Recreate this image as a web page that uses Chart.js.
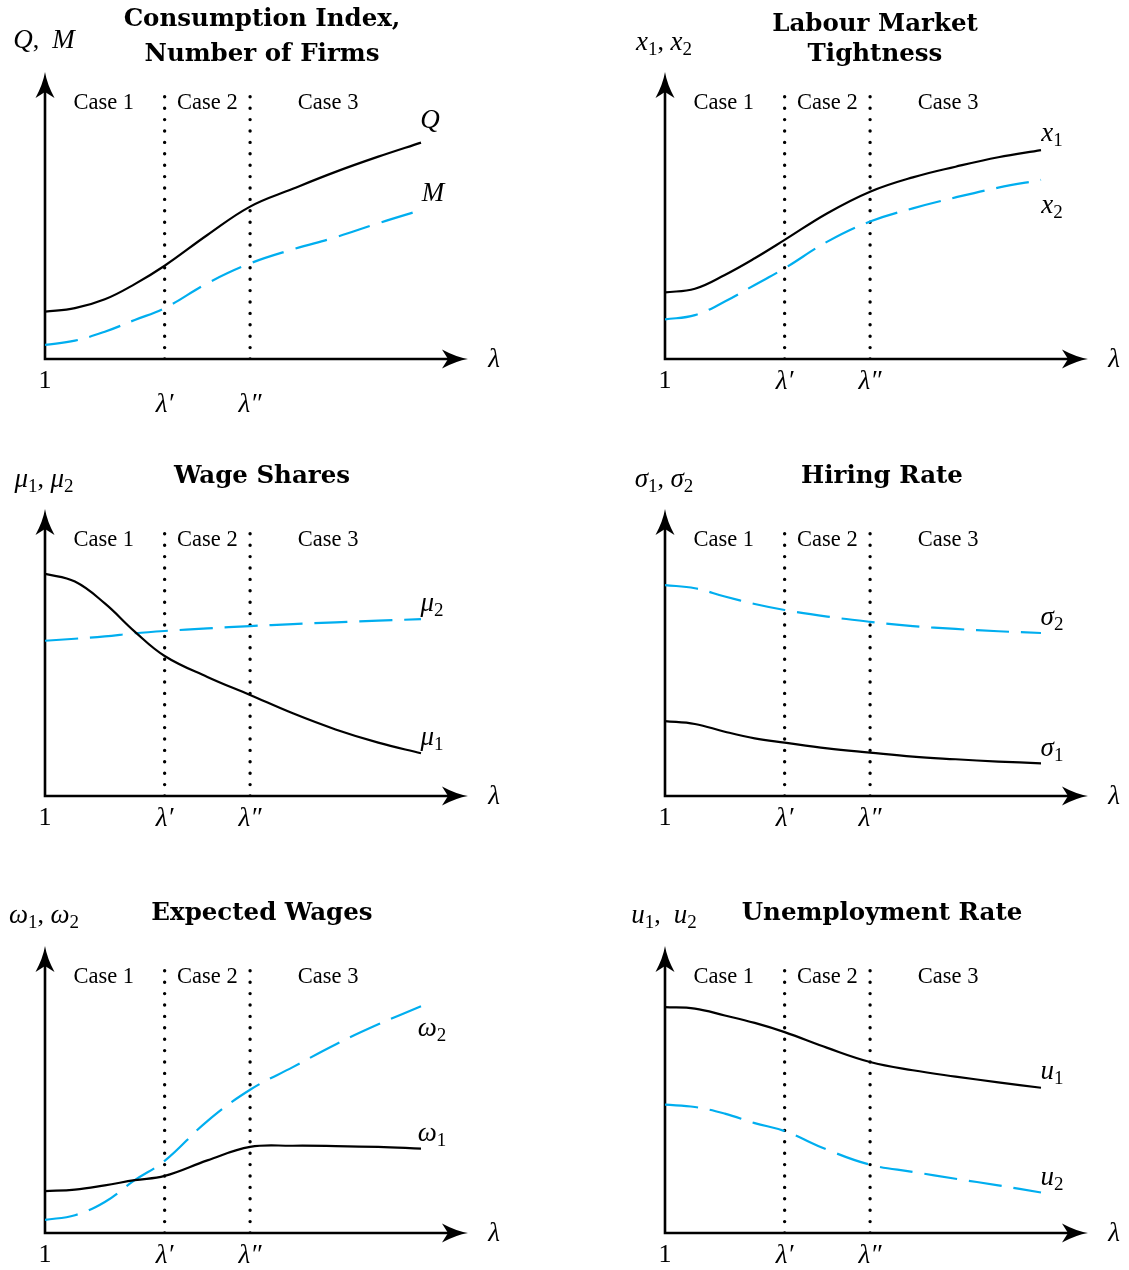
<!DOCTYPE html>
<html>
<head>
<meta charset="utf-8">
<script src="https://cdn.jsdelivr.net/npm/chart.js@4.4.1/dist/chart.umd.min.js"></script>
<style>
  body { margin: 0; background: #fff; }
  #wrap { position: relative; width: 1129px; height: 1270px; }
  canvas { position: absolute; }
</style>
</head>
<body>
<div id="wrap"></div>
<script>
// lambda sample points shared by every panel
const lambdaX = [1, 1.35, 1.7, 2.05, 2.4, 2.9, 3.4, 3.9, 4.4, 4.9, 5.4];
const LAMBDA_P = 2.4;   // lambda'
const LAMBDA_PP = 3.4;  // lambda''
const X_MAX = 5.95;

const caseLabels = ['Case 1', 'Case 2', 'Case 3'];
const tickLabels = ['1', 'λ′', 'λ″'];

// values (arbitrary units, 0 = horizontal axis)
const qValues      = [16.5, 17.7, 20.8, 26.1, 32.5, 43.2, 53.1, 59.3, 65.2, 70.5, 75.4];
const mValues      = [4.9, 6.4, 9.5, 13.6, 17.7, 26.4, 33.3, 38.2, 42.4, 47.3, 51.9];
const x1Values     = [23.2, 24.5, 29.3, 35.1, 41.5, 50.8, 58.3, 63.3, 67.0, 70.3, 72.8];
const x2Values     = [13.8, 15.3, 20.0, 25.8, 31.6, 40.9, 47.9, 52.5, 56.3, 59.7, 62.4];
const mu1Values    = [77.4, 74.7, 67.1, 57.3, 48.8, 41.5, 35.2, 28.8, 23.2, 18.6, 14.9];
const mu2Values    = [54.1, 54.8, 55.6, 56.7, 57.5, 58.4, 59.2, 59.9, 60.5, 61.1, 61.6];
const sigma1Values = [26.1, 25.1, 22.4, 20.1, 18.6, 16.6, 15.1, 13.7, 12.8, 12.0, 11.4];
const sigma2Values = [73.5, 72.4, 69.5, 66.9, 64.8, 62.5, 60.7, 59.2, 58.2, 57.4, 56.8];
const omega1Values = [14.6, 15.1, 16.6, 18.4, 19.9, 25.3, 30.0, 30.4, 30.3, 30.0, 29.4];
const omega2Values = [4.6, 6.2, 10.8, 18.4, 25.1, 39.0, 49.9, 57.8, 65.7, 72.7, 79.0];
const u1Values     = [78.7, 78.2, 75.8, 73.2, 70.0, 64.5, 59.6, 56.7, 54.5, 52.5, 50.6];
const u2Values     = [44.7, 43.9, 41.6, 38.3, 35.5, 29.0, 23.8, 21.3, 18.9, 16.6, 14.1];

const BLUE = '#00aeef';
const SERIF = '"Liberation Serif", "DejaVu Serif", serif';
const W = 509, H = 437;
const AREA = { left: 45, top: 72, right: 468, bottom: 359 };

const panels = [
  { left: 0, top: 0, title: ['Consumption Index,', 'Number of Firms'], titleY: [20, 55], titleX: 262,
    yLabel: [['Q', 'i'], [',  ', 'r'], ['M', 'i']], yLabelY: 40,
    solid: qValues, dashed: mValues, tickY: 405,
    solidLabel: [['Q', 'i']], solidPos: [430, 120],
    dashedLabel: [['M', 'i']], dashedPos: [433, 193] },
  { left: 620, top: 0, title: ['Labour Market', 'Tightness'], titleY: [25, 55], titleX: 255,
    yLabel: [['x', 'i'], ['1', 's'], [', ', 'r'], ['x', 'i'], ['2', 's']], yLabelY: 42,
    solid: x1Values, dashed: x2Values, tickY: 382,
    solidLabel: [['x', 'i'], ['1', 's']], solidPos: [432, 133],
    dashedLabel: [['x', 'i'], ['2', 's']], dashedPos: [432, 205] },
  { left: 0, top: 437, title: ['Wage Shares'], titleY: [40], titleX: 262,
    yLabel: [['μ', 'i'], ['1', 's'], [', ', 'r'], ['μ', 'i'], ['2', 's']], yLabelY: 42,
    solid: mu1Values, dashed: mu2Values, tickY: 382,
    solidLabel: [['μ', 'i'], ['1', 's']], solidPos: [432, 300],
    dashedLabel: [['μ', 'i'], ['2', 's']], dashedPos: [432, 166] },
  { left: 620, top: 437, title: ['Hiring Rate'], titleY: [40], titleX: 262,
    yLabel: [['σ', 'i'], ['1', 's'], [', ', 'r'], ['σ', 'i'], ['2', 's']], yLabelY: 42,
    solid: sigma1Values, dashed: sigma2Values, tickY: 382,
    solidLabel: [['σ', 'i'], ['1', 's']], solidPos: [432, 311],
    dashedLabel: [['σ', 'i'], ['2', 's']], dashedPos: [432, 180] },
  { left: 0, top: 874, title: ['Expected Wages'], titleY: [40], titleX: 262,
    yLabel: [['ω', 'i'], ['1', 's'], [', ', 'r'], ['ω', 'i'], ['2', 's']], yLabelY: 41,
    solid: omega1Values, dashed: omega2Values, tickY: 382,
    solidLabel: [['ω', 'i'], ['1', 's']], solidPos: [432, 259],
    dashedLabel: [['ω', 'i'], ['2', 's']], dashedPos: [432, 154] },
  { left: 620, top: 874, title: ['Unemployment Rate'], titleY: [40], titleX: 262,
    yLabel: [['u', 'i'], ['1', 's'], [',  ', 'r'], ['u', 'i'], ['2', 's']], yLabelY: 41,
    solid: u1Values, dashed: u2Values, tickY: 382,
    solidLabel: [['u', 'i'], ['1', 's']], solidPos: [432, 197],
    dashedLabel: [['u', 'i'], ['2', 's']], dashedPos: [432, 303] }
];

function partFont(style) {
  if (style === 'i') return 'italic 27px ' + SERIF;
  if (style === 's') return '19px ' + SERIF;
  return '26px ' + SERIF;
}

// draws a small math expression centred on (cx, cy)
function drawMath(ctx, parts, cx, cy) {
  let total = 0;
  parts.forEach(p => { ctx.font = partFont(p[1]); total += ctx.measureText(p[0]).width; });
  let x = cx - total / 2;
  const base = cy + 8;
  ctx.textAlign = 'left';
  ctx.textBaseline = 'alphabetic';
  parts.forEach(p => {
    ctx.font = partFont(p[1]);
    ctx.fillText(p[0], x, p[1] === 's' ? base + 5 : base);
    x += ctx.measureText(p[0]).width;
  });
}

function arrowHead(ctx, tx, ty, dir) {
  // dir: 'up' or 'right'
  ctx.save();
  ctx.translate(tx, ty);
  if (dir === 'up') ctx.rotate(-Math.PI / 2);
  ctx.beginPath();
  ctx.moveTo(0, 0);
  ctx.quadraticCurveTo(-12, -2, -26, -9.5);
  ctx.lineTo(-20, 0);
  ctx.lineTo(-26, 9.5);
  ctx.quadraticCurveTo(-12, 2, 0, 0);
  ctx.closePath();
  ctx.fill();
  ctx.restore();
}

const axesPlugin = {
  id: 'axesPlugin',
  beforeDatasetsDraw(chart) {
    const { ctx, chartArea: a } = chart;
    ctx.save();
    ctx.strokeStyle = '#000';
    ctx.fillStyle = '#000';
    ctx.lineWidth = 2.6;
    ctx.beginPath();
    ctx.moveTo(a.left, a.top + 18);
    ctx.lineTo(a.left, a.bottom);
    ctx.lineTo(a.right - 18, a.bottom);
    ctx.stroke();
    arrowHead(ctx, a.left, a.top, 'up');
    arrowHead(ctx, a.right, a.bottom, 'right');
    ctx.restore();
  },
  afterDraw(chart) {
    const p = chart.options.plugins.panel;
    const { ctx, chartArea: a, scales } = chart;
    const xs = scales.x;
    ctx.save();
    ctx.fillStyle = '#000';

    // title
    ctx.font = 'bold 24.5px "DejaVu Serif", serif';
    ctx.textAlign = 'center';
    ctx.textBaseline = 'middle';
    p.title.forEach((t, i) => ctx.fillText(t, p.titleX, p.titleY[i]));

    // y axis label
    drawMath(ctx, p.yLabel, 44, p.yLabelY);

    // case labels
    ctx.font = '22.5px ' + SERIF;
    ctx.textAlign = 'center';
    ctx.textBaseline = 'middle';
    const pl = xs.getPixelForValue(LAMBDA_P), pll = xs.getPixelForValue(LAMBDA_PP);
    const caseX = [(a.left + pl) / 2 - 1, (pl + pll) / 2, pll + 78];
    caseLabels.forEach((c, i) => ctx.fillText(c, caseX[i], 103));

    // tick labels
    ctx.font = '26px ' + SERIF;
    ctx.fillText(tickLabels[0], a.left, 381);
    ctx.font = 'italic 27px ' + SERIF;
    ctx.fillText(tickLabels[1], pl, p.tickY);
    ctx.fillText(tickLabels[2], pll, p.tickY);
    ctx.fillText('λ', a.right + 26, a.bottom + 1);

    // curve labels
    drawMath(ctx, p.solidLabel, p.solidPos[0], p.solidPos[1]);
    drawMath(ctx, p.dashedLabel, p.dashedPos[0], p.dashedPos[1]);
    ctx.restore();
  }
};

const wrap = document.getElementById('wrap');

panels.forEach(p => {
  const cv = document.createElement('canvas');
  cv.width = W;
  cv.height = H;
  cv.style.left = p.left + 'px';
  cv.style.top = p.top + 'px';
  wrap.appendChild(cv);

  const dotted = x => ({
    data: [{ x: x, y: 0 }, { x: x, y: 91.6 }],
    borderColor: '#000', borderWidth: 3.4, borderDash: [0, 11.4], borderCapStyle: 'round',
    pointRadius: 0, tension: 0
  });

  new Chart(cv, {
    type: 'line',
    data: {
      datasets: [
        { data: lambdaX.map((x, i) => ({ x: x, y: p.solid[i] })), borderColor: '#000', borderWidth: 2.2,
          pointRadius: 0, tension: 0.4 },
        { data: lambdaX.map((x, i) => ({ x: x, y: p.dashed[i] })), borderColor: BLUE, borderWidth: 2.2,
          borderDash: [33, 12], pointRadius: 0, tension: 0.4 },
        dotted(LAMBDA_P),
        dotted(LAMBDA_PP)
      ]
    },
    options: {
      responsive: false,
      animation: false,
      events: [],
      layout: { padding: { left: AREA.left, top: AREA.top, right: W - AREA.right, bottom: H - AREA.bottom } },
      scales: {
        x: { type: 'linear', min: 1, max: X_MAX, display: false },
        y: { min: 0, max: 100, display: false }
      },
      plugins: { legend: { display: false }, tooltip: { enabled: false }, panel: p }
    },
    plugins: [axesPlugin]
  });
});
</script>
</body>
</html>
